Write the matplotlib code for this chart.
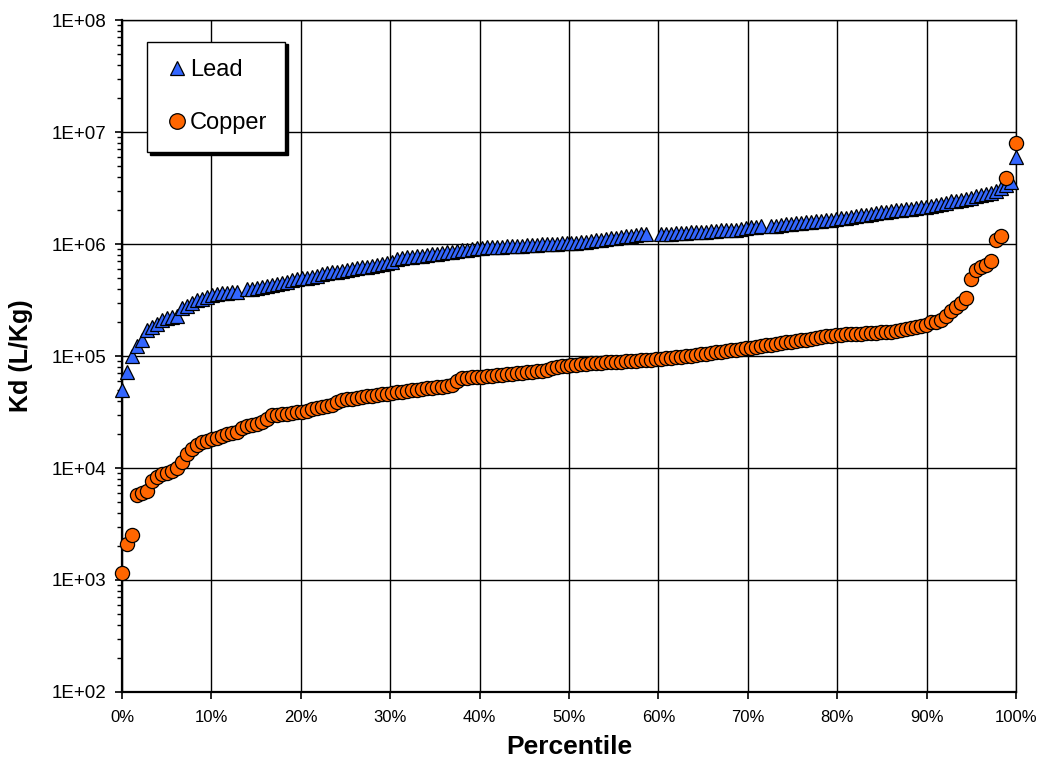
import numpy as np
import matplotlib
matplotlib.use("Agg")
import matplotlib.pyplot as plt
from matplotlib.ticker import LogLocator, FixedLocator, FuncFormatter, NullFormatter

nan = np.nan

# Kd values (L/Kg), sorted; NaN = no sample at that rank
lead = [
    5.0e4, 7.2e4, 1.0e5, 1.23e5, 1.38e5, 1.70e5, 1.80e5, 1.95e5, 2.11e5, 2.19e5,
    2.24e5, 2.29e5, 2.69e5, 2.82e5, 2.95e5, 3.13e5, 3.20e5, 3.39e5, 3.47e5, 3.55e5,
    3.63e5, 3.67e5, 3.72e5, 3.76e5, nan, 3.94e5, 3.98e5, 4.05e5, 4.10e5, 4.22e5,
    4.31e5, 4.42e5, 4.52e5, 4.62e5, 4.73e5, 4.84e5, 4.95e5, 5.01e5, 5.07e5, 5.13e5,
    5.37e5, 5.50e5, 5.58e5, 5.68e5, 5.77e5, 5.86e5, 5.96e5, 6.05e5, 6.17e5, 6.28e5,
    6.40e5, 6.52e5, 6.64e5, 6.76e5, 6.89e5, 7.33e5, 7.50e5, 7.62e5, 7.73e5, 7.82e5,
    7.89e5, 7.94e5, 8.07e5, 8.18e5, 8.32e5, 8.43e5, 8.55e5, 8.67e5, 8.79e5, 8.91e5,
    9.04e5, 9.18e5, 9.29e5, 9.33e5, 9.38e5, 9.42e5, 9.48e5, 9.53e5, 9.57e5, 9.62e5,
    9.68e5, 9.72e5, 9.77e5, 9.84e5, 9.91e5, 9.98e5, 1.00e6, 1.01e6, 1.02e6, 1.02e6,
    1.03e6, 1.03e6, 1.04e6, 1.05e6, 1.06e6, 1.08e6, 1.09e6, 1.11e6, 1.12e6, 1.14e6,
    1.15e6, 1.17e6, 1.19e6, 1.20e6, 1.22e6, 1.23e6, nan, nan, 1.23e6, 1.24e6,
    1.24e6, 1.25e6, 1.26e6, 1.26e6, 1.27e6, 1.28e6, 1.29e6, 1.29e6, 1.30e6, 1.31e6,
    1.32e6, 1.33e6, 1.34e6, 1.34e6, 1.36e6, 1.39e6, 1.41e6, 1.42e6, 1.44e6, nan,
    1.45e6, 1.46e6, 1.48e6, 1.50e6, 1.51e6, 1.53e6, 1.54e6, 1.56e6, 1.58e6, 1.60e6,
    1.61e6, 1.63e6, 1.65e6, 1.67e6, 1.69e6, 1.72e6, 1.75e6, 1.78e6, 1.80e6, 1.83e6,
    1.86e6, 1.89e6, 1.92e6, 1.95e6, 1.97e6, 2.00e6, 2.02e6, 2.04e6, 2.07e6, 2.09e6,
    2.12e6, 2.14e6, 2.19e6, 2.24e6, 2.29e6, 2.34e6, 2.40e6, 2.44e6, 2.49e6, 2.54e6,
    2.60e6, 2.66e6, 2.72e6, 2.79e6, 2.85e6, 2.95e6, 3.13e6, 3.39e6, 3.60e6, 6.0e6,
]

copper = [
    1.15e3, 2.1e3, 2.5e3, 5.7e3, 6.0e3, 6.2e3, 7.6e3, 8.3e3, 8.8e3, 9.1e3,
    9.4e3, 1.0e4, 1.12e4, 1.32e4, 1.48e4, 1.62e4, 1.71e4, 1.74e4, 1.80e4, 1.86e4,
    1.93e4, 2.0e4, 2.07e4, 2.11e4, 2.26e4, 2.36e4, 2.42e4, 2.48e4, 2.56e4, 2.75e4,
    2.95e4, 2.99e4, 3.02e4, 3.05e4, 3.09e4, 3.14e4, 3.18e4, 3.26e4, 3.33e4, 3.40e4,
    3.48e4, 3.56e4, 3.63e4, 3.85e4, 4.05e4, 4.10e4, 4.16e4, 4.22e4, 4.29e4, 4.35e4,
    4.42e4, 4.48e4, 4.54e4, 4.60e4, 4.67e4, 4.73e4, 4.80e4, 4.86e4, 4.93e4, 5.00e4,
    5.07e4, 5.13e4, 5.20e4, 5.26e4, 5.33e4, 5.41e4, 5.50e4, 6.03e4, 6.31e4, 6.38e4,
    6.46e4, 6.50e4, 6.55e4, 6.61e4, 6.68e4, 6.75e4, 6.82e4, 6.89e4, 6.97e4, 7.03e4,
    7.11e4, 7.18e4, 7.26e4, 7.33e4, 7.41e4, 7.48e4, 7.76e4, 8.05e4, 8.13e4, 8.22e4,
    8.30e4, 8.39e4, 8.49e4, 8.55e4, 8.59e4, 8.65e4, 8.71e4, 8.77e4, 8.81e4, 8.87e4,
    8.91e4, 8.97e4, 9.04e4, 9.08e4, 9.14e4, 9.20e4, 9.25e4, 9.31e4, 9.40e4, 9.51e4,
    9.64e4, 9.75e4, 9.89e4, 1.00e5, 1.01e5, 1.03e5, 1.04e5, 1.05e5, 1.06e5, 1.08e5,
    1.09e5, 1.10e5, 1.12e5, 1.13e5, 1.15e5, 1.17e5, 1.19e5, 1.21e5, 1.23e5, 1.25e5,
    1.26e5, 1.28e5, 1.30e5, 1.32e5, 1.34e5, 1.36e5, 1.38e5, 1.40e5, 1.42e5, 1.45e5,
    1.47e5, 1.50e5, 1.52e5, 1.54e5, 1.55e5, 1.56e5, 1.57e5, 1.58e5, 1.58e5, 1.60e5,
    1.61e5, 1.62e5, 1.63e5, 1.64e5, 1.65e5, 1.68e5, 1.71e5, 1.75e5, 1.78e5, 1.82e5,
    1.86e5, 1.91e5, 2.00e5, 2.03e5, 2.09e5, 2.29e5, 2.51e5, 2.75e5, 2.95e5, 3.31e5,
    4.9e5, 5.9e5, 6.2e5, 6.5e5, 7.05e5, 1.09e6, 1.17e6, 3.9e6, nan, 7.9e6,
]

series_names = ["Lead", "Copper"]
x_ticks = [0.0, 0.1, 0.2, 0.3, 0.4, 0.5, 0.6, 0.7, 0.8, 0.9, 1.0]
y_ticks = [1e2, 1e3, 1e4, 1e5, 1e6, 1e7, 1e8]

n = len(lead)
percentile = np.arange(n) / (n - 1)

plt.rcParams['font.family'] = ['Liberation Sans', 'DejaVu Sans']

fig = plt.figure(figsize=(10.39, 7.60), dpi=100)
ax = fig.add_axes([122 / 1039, 68 / 760, 894 / 1039, 672 / 760])

ax.set_yscale('log')
ax.set_xlim(0, 1)
ax.set_ylim(1e2, 1e8)

ax.plot(percentile, np.array(lead, dtype=float), linestyle='none', marker='^',
        markersize=9.6, markerfacecolor='#3366FF', markeredgecolor='black',
        markeredgewidth=0.9, label=series_names[0], zorder=3, clip_on=False)
ax.plot(percentile, np.array(copper, dtype=float), linestyle='none', marker='o',
        markersize=10.2, markerfacecolor='#FF6600', markeredgecolor='black',
        markeredgewidth=0.9, label=series_names[1], zorder=4, clip_on=False)

ax.xaxis.set_major_locator(FixedLocator(x_ticks))
ax.xaxis.set_major_formatter(FuncFormatter(lambda v, p: f"{v*100:.0f}%"))
ax.yaxis.set_major_locator(FixedLocator(y_ticks))
ax.yaxis.set_major_formatter(FuncFormatter(lambda v, p: f"1E+{int(round(np.log10(v))):02d}"))
ax.yaxis.set_minor_locator(LogLocator(base=10, subs=np.arange(2, 10), numticks=20))
ax.yaxis.set_minor_formatter(NullFormatter())

ax.grid(True, which='major', color='black', linewidth=1.0, zorder=1)
ax.set_axisbelow(True)

ax.tick_params(axis='both', which='major', direction='out', length=5, width=1.2,
               colors='black')
ax.tick_params(axis='y', which='major', pad=6, labelsize=13.5)
ax.tick_params(axis='y', which='minor', direction='out', length=3.5, width=1.0)
ax.tick_params(axis='x', which='major', pad=8, labelsize=12)

for side in ['left', 'bottom']:
    ax.spines[side].set_linewidth(1.6)
for side in ['top', 'right']:
    ax.spines[side].set_linewidth(1.0)

ax.set_xlabel('Percentile', fontsize=19, fontweight='bold', labelpad=7)
ax.set_ylabel('Kd (L/Kg)', fontsize=18, fontweight='bold', labelpad=14)

leg = ax.legend(loc='upper left', bbox_to_anchor=(0.0283, 0.9677),
                frameon=True, fancybox=False,
                shadow={'facecolor': 'black', 'edgecolor': 'black', 'alpha': 1.0},
                fontsize=17, labelspacing=1.3, borderpad=0.75,
                handlelength=1.0, handletextpad=0.05, borderaxespad=0.0,
                markerscale=1.1, numpoints=1)
leg.get_frame().set_edgecolor('black')
leg.get_frame().set_linewidth(1.0)
leg.get_frame().set_alpha(1.0)
leg.set_zorder(5)

fig.savefig('out.png', dpi=100)
